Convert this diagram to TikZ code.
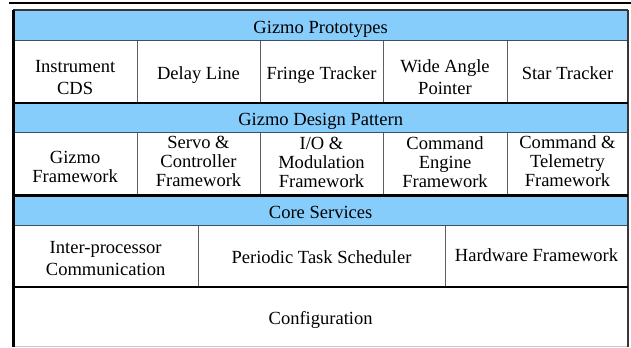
\documentclass[tikz,border=0pt]{standalone}
\usepackage{fontspec}
\setmainfont{Liberation Serif}
\newfontfamily\cellfont{Liberation Serif}

\newdimen\px \px=0.75pt
\definecolor{layerblue}{RGB}{135,205,252}
\definecolor{edgegray}{RGB}{55,55,55}
\definecolor{divgray}{RGB}{95,95,95}
\definecolor{bandline}{RGB}{60,80,100}
\definecolor{basegray}{RGB}{200,200,200}

% text of a cell: #1 = drop of the first baseline below the cell centre (px),
% #2 = line pitch (pt), #3 = lines separated by \\
\newcommand{\celltext}[3]{%
  \raisebox{-#1\px}[0pt][0pt]{\cellfont\fontsize{13.9pt}{#2pt}\selectfont
    \begin{tabular}[t]{@{}c@{}}#3\end{tabular}}}

% a cell from corner (#2,#3) to corner (#4,#5), style #6, text #7
\newcommand{\cellnode}[7]{%
  \node[#6, minimum width={(#4-#2)*0.75pt}, minimum height={(#5-#3)*0.75pt}]
    (#1) at ({(#2+#4)/2},{(#3+#5)/2}) {#7};}

\tikzset{
  band/.style={fill=layerblue, inner sep=0pt, outer sep=0pt},
  plain/.style={fill=white, inner sep=0pt, outer sep=0pt},
  heavy/.style={line width=1.9pt, black},
  outer/.style={line width=1.1pt, edgegray},
  divider/.style={line width=0.75pt, divgray},
  bandrule/.style={line width=0.75pt, bandline},
  toprule/.style={line width=1.65pt, black},
}

\begin{document}
\begin{tikzpicture}[x=0.75pt,y=-0.75pt]
\useasboundingbox (0,0) rectangle (631,348);
\fill[white] (0,0) rectangle (631,348);

% rule above the stack
\coordinate (ruleL) at (9,3);
\coordinate (ruleR) at (631,3);
\draw[toprule] (ruleL) -- (ruleR);

% prototypes layer
\cellnode{proto}{13.3}{10}{628}{41}{band}{\celltext{7.8}{16}{Gizmo Prototypes}}
\cellnode{inst}{13.3}{41}{137}{103}{plain}{\celltext{0.7}{16.2}{Instrument\\CDS}}
\cellnode{delay}{137}{41}{260}{103}{plain}{\celltext{8}{16}{Delay Line}}
\cellnode{fringe}{260}{41}{383}{103}{plain}{\celltext{8}{16}{Fringe Tracker}}
\cellnode{wap}{383}{41}{507}{103}{plain}{\celltext{0.7}{16.2}{Wide Angle\\Pointer}}
\cellnode{star}{507}{41}{628}{103}{plain}{\celltext{8}{16}{Star Tracker}}

% design pattern layer
\cellnode{pattern}{13.3}{103}{628}{132.5}{band}{\celltext{8.2}{16}{Gizmo Design Pattern}}
\cellnode{gizfw}{13.3}{132.5}{137}{195.5}{plain}{\celltext{-0.7}{14.2}{Gizmo\\Framework}}
\cellnode{servo}{137}{132.5}{260}{195.5}{plain}{\celltext{-15}{14.1}{Servo \&\\Controller\\Framework}}
\cellnode{io}{260}{132.5}{383}{195.5}{plain}{\celltext{-14.5}{14.1}{I/O \&\\Modulation\\Framework}}
\cellnode{cmdeng}{383}{132.5}{507}{195.5}{plain}{\celltext{-14.5}{14.1}{Command\\Engine\\Framework}}
\cellnode{cmdtlm}{507}{132.5}{628}{195.5}{plain}{\celltext{-15}{14.1}{Command \&\\Telemetry\\Framework}}

% core services layer
\cellnode{core}{13.3}{195.5}{628}{226}{band}{\celltext{7.5}{16}{Core Services}}
\cellnode{ipc}{13.3}{226}{198}{287}{plain}{\celltext{-3.2}{16.3}{Inter-processor\\Communication}}
\cellnode{sched}{198}{226}{445}{287}{plain}{\celltext{6.8}{16}{Periodic Task Scheduler}}
\cellnode{hw}{445}{226}{628}{287}{plain}{\celltext{5.2}{16}{Hardware Framework}}

% configuration
\cellnode{cfg}{13.3}{287}{628}{347}{plain}{\celltext{8}{16}{Configuration}}

% thin dividers between cells
\foreach \c in {inst,delay,fringe,wap,gizfw,servo,io,cmdeng,ipc,sched}
  \draw[divider] (\c.north east) -- (\c.south east);

% lines under the coloured bands
\foreach \b in {proto,pattern,core}
  \draw[bandrule] (\b.south west) -- (\b.south east);

% faint base line
\draw[line width=0.75pt, basegray] (cfg.south west) -- (cfg.south east);

% outer frame
\draw[outer] (proto.north west) -- (proto.north east);
\draw[outer] (proto.north east) -- (cfg.south east);

% heavy separators between layers
\draw[heavy] (inst.south west) -- (star.south east);
\draw[heavy] (gizfw.south west) -- (cmdtlm.south east);
\draw[heavy] (ipc.south west) -- (hw.south east);
\draw[heavy] (proto.north west) -- (cfg.south west);
\end{tikzpicture}
\end{document}
